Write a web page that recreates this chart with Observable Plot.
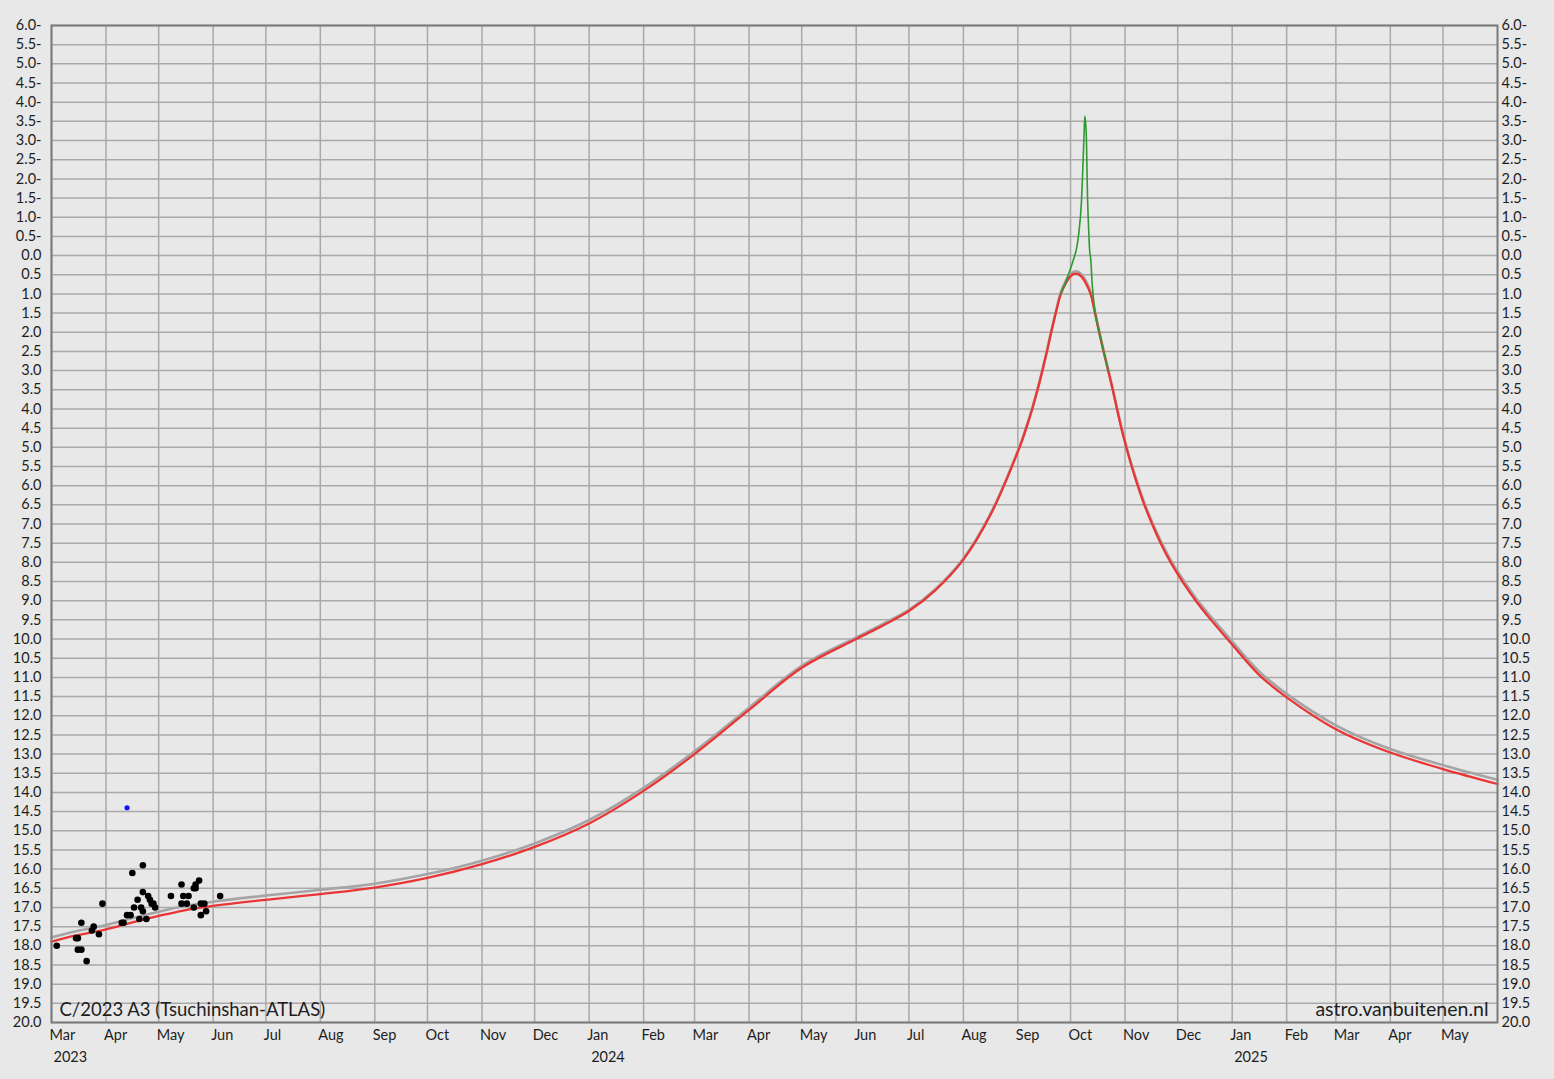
<!DOCTYPE html>
<html>
<head>
<meta charset="utf-8">
<script src="https://cdn.jsdelivr.net/npm/d3@7"></script>
<script src="https://cdn.jsdelivr.net/npm/@observablehq/plot@0.6"></script>
<style>
  html, body { margin: 0; padding: 0; background: #e8e8e8; }
  #chart { width: 1554px; height: 1079px; }
</style>
</head>
<body>
<div id="chart"></div>
<script>
// ---- data ----
const titleText = "C/2023 A3 (Tsuchinshan-ATLAS)";
const creditText = "astro.vanbuitenen.nl";

const xDomain = ["2023-03-01", "2025-06-01"];
const yearLabels = [["2023-03-01", "2023"], ["2024-01-01", "2024"], ["2025-01-01", "2025"]];

// red: predicted magnitude
const redCurve = [
  ["2023-03-01", 17.89], ["2023-03-15", 17.73], ["2023-04-01", 17.57], ["2023-04-15", 17.40],
  ["2023-05-01", 17.22], ["2023-05-15", 17.08], ["2023-06-01", 16.96], ["2023-07-01", 16.80],
  ["2023-08-01", 16.65], ["2023-09-01", 16.48], ["2023-10-01", 16.23], ["2023-11-01", 15.87],
  ["2023-12-01", 15.42], ["2024-01-01", 14.81], ["2024-02-01", 13.96], ["2024-03-01", 13.00],
  ["2024-04-01", 11.85], ["2024-05-01", 10.75], ["2024-06-01", 10.00], ["2024-06-16", 9.65],
  ["2024-07-01", 9.27], ["2024-07-16", 8.73], ["2024-08-01", 7.93], ["2024-08-16", 6.80],
  ["2024-09-02", 5.00], ["2024-09-05T19:00Z", 4.50], ["2024-09-09T05:00Z", 4.00], ["2024-09-12T06:00Z", 3.50],
  ["2024-09-15", 3.00], ["2024-09-17T14:00Z", 2.50], ["2024-09-20", 2.00], ["2024-09-22T14:00Z", 1.50],
  ["2024-09-25T12:00Z", 1.00], ["2024-09-28T07:00Z", 0.72], ["2024-09-30T14:00Z", 0.56], ["2024-10-02T07:00Z", 0.49],
  ["2024-10-04", 0.47], ["2024-10-05T17:00Z", 0.49], ["2024-10-07T10:00Z", 0.56], ["2024-10-09T17:00Z", 0.72],
  ["2024-10-12T10:00Z", 1.00], ["2024-10-14T22:00Z", 1.50], ["2024-10-17T07:00Z", 2.00], ["2024-10-19T19:00Z", 2.50],
  ["2024-10-22T10:00Z", 3.00], ["2024-10-25", 3.50], ["2024-10-27T10:00Z", 4.00], ["2024-10-29T22:00Z", 4.50],
  ["2024-11-01T17:00Z", 5.00], ["2024-11-04T19:00Z", 5.50], ["2024-11-08T05:00Z", 6.00], ["2024-11-12", 6.50],
  ["2024-11-16T10:00Z", 7.00], ["2024-11-21T07:00Z", 7.50], ["2024-11-27", 8.00], ["2024-12-03T17:00Z", 8.50],
  ["2024-12-11T07:00Z", 9.00], ["2024-12-19T22:00Z", 9.50], ["2024-12-29T07:00Z", 10.00], ["2025-01-16", 10.92],
  ["2025-02-01", 11.52], ["2025-03-01", 12.35], ["2025-04-01", 12.96], ["2025-05-01", 13.39],
  ["2025-06-01", 13.78]
];

// grey: alternative prediction
const greyCurve = [
  ["2023-03-01", 17.78], ["2023-03-15", 17.62], ["2023-04-01", 17.46], ["2023-04-15", 17.29],
  ["2023-05-01", 17.11], ["2023-05-15", 16.97], ["2023-06-01", 16.85], ["2023-07-01", 16.69],
  ["2023-08-01", 16.54], ["2023-09-01", 16.38], ["2023-10-01", 16.13], ["2023-11-01", 15.78],
  ["2023-12-01", 15.33], ["2024-01-01", 14.72], ["2024-02-01", 13.88], ["2024-03-01", 12.93],
  ["2024-04-01", 11.79], ["2024-05-01", 10.70], ["2024-06-01", 9.96], ["2024-06-16", 9.61],
  ["2024-07-01", 9.24], ["2024-07-16", 8.70], ["2024-08-01", 7.90], ["2024-08-16", 6.77],
  ["2024-09-02", 4.97], ["2024-09-05T19:00Z", 4.47], ["2024-09-09T05:00Z", 3.97], ["2024-09-12T06:00Z", 3.47],
  ["2024-09-15", 2.97], ["2024-09-17T14:00Z", 2.47], ["2024-09-20", 1.97], ["2024-09-22T14:00Z", 1.47],
  ["2024-09-25T12:00Z", 0.95], ["2024-09-28T07:00Z", 0.66], ["2024-09-30T14:00Z", 0.50], ["2024-10-02T07:00Z", 0.43],
  ["2024-10-04", 0.41], ["2024-10-05T17:00Z", 0.43], ["2024-10-07T10:00Z", 0.50], ["2024-10-09T17:00Z", 0.66],
  ["2024-10-12T10:00Z", 0.95], ["2024-10-14T22:00Z", 1.46], ["2024-10-17T07:00Z", 1.97], ["2024-10-19T19:00Z", 2.47],
  ["2024-10-22T10:00Z", 2.97], ["2024-10-25", 3.47], ["2024-10-27T10:00Z", 3.97], ["2024-10-29T22:00Z", 4.47],
  ["2024-11-01T17:00Z", 4.96], ["2024-11-04T19:00Z", 5.46], ["2024-11-08T05:00Z", 5.95], ["2024-11-12", 6.45],
  ["2024-11-16T10:00Z", 6.95], ["2024-11-21T07:00Z", 7.44], ["2024-11-27", 7.94], ["2024-12-03T17:00Z", 8.43],
  ["2024-12-11T07:00Z", 8.93], ["2024-12-19T22:00Z", 9.42], ["2024-12-29T07:00Z", 9.92], ["2025-01-16", 10.83],
  ["2025-02-01", 11.43], ["2025-03-01", 12.25], ["2025-04-01", 12.87], ["2025-05-01", 13.29],
  ["2025-06-01", 13.67]
];

// green: forward-scattering spike
const greenCurve = [
  ["2024-09-25T12:00Z", 1.00], ["2024-09-28T07:00Z", 0.68], ["2024-10-01", 0.34], ["2024-10-03", 0.05],
  ["2024-10-04T06:00Z", -0.15], ["2024-10-05T16:00Z", -0.57], ["2024-10-07T06:00Z", -1.45], ["2024-10-08", -2.30],
  ["2024-10-08T17:00Z", -3.19], ["2024-10-09T03:00Z", -3.64], ["2024-10-09T22:00Z", -3.19], ["2024-10-10T17:00Z", -1.45],
  ["2024-10-11T10:00Z", -0.57], ["2024-10-11T20:00Z", -0.15], ["2024-10-12T12:00Z", 0.10], ["2024-10-13T07:00Z", 0.73],
  ["2024-10-15T05:00Z", 1.55], ["2024-10-17T07:00Z", 2.00], ["2024-10-19T19:00Z", 2.50], ["2024-10-22T10:00Z", 3.00]
];

// black: observations
const observations = [
  ["2023-03-04", 18.0], ["2023-03-15", 17.8], ["2023-03-16", 17.8], ["2023-03-16", 18.1],
  ["2023-03-18", 18.1], ["2023-03-18", 17.4], ["2023-03-21", 18.4], ["2023-03-24", 17.6],
  ["2023-03-25", 17.5], ["2023-03-28", 17.7], ["2023-03-30", 16.9], ["2023-04-10", 17.4],
  ["2023-04-11", 17.4], ["2023-04-13", 17.2], ["2023-04-15", 17.2], ["2023-04-16", 16.1],
  ["2023-04-17", 17.0], ["2023-04-19", 16.8], ["2023-04-20", 17.3], ["2023-04-21", 17.0],
  ["2023-04-22", 17.1], ["2023-04-22", 15.9], ["2023-04-22", 16.6], ["2023-04-24", 17.3],
  ["2023-04-25", 16.7], ["2023-04-26", 16.8], ["2023-04-27", 16.9], ["2023-04-28", 16.9],
  ["2023-04-29", 17.0], ["2023-05-08", 16.7], ["2023-05-14", 16.4], ["2023-05-15", 16.7],
  ["2023-05-18", 16.7], ["2023-05-14", 16.9], ["2023-05-17", 16.9], ["2023-05-21", 17.0],
  ["2023-05-21", 16.5], ["2023-05-22", 16.4], ["2023-05-22", 16.5], ["2023-05-24", 16.3],
  ["2023-05-25", 16.9], ["2023-05-27", 16.9], ["2023-05-25", 17.2], ["2023-05-28", 17.1],
  ["2023-06-05", 16.7]
];

// blue: single deviating observation
const blueObservations = [["2023-04-13", 14.4]];

// ---- build ----
const toRows = arr => arr.map(([d, m]) => ({date: new Date(d), mag: m}));
const red = toRows(redCurve), grey = toRows(greyCurve), green = toRows(greenCurve);
const obs = toRows(observations), blue = toRows(blueObservations);

const x0 = new Date(xDomain[0]), x1 = new Date(xDomain[1]);
const monthTicks = d3.utcMonth.range(x0, x1);
const yTicks = d3.range(-6, 20.001, 0.5);
const years = yearLabels.map(([d, t]) => ({date: new Date(d), text: t}));
const yFmt = v => v < 0 ? `${(-v).toFixed(1)}-` : v.toFixed(1);

const gridColor = "#a9a9a9";
const textColor = "#1e1e1e";

const chart = Plot.plot({
  width: 1554,
  height: 1079,
  marginLeft: 51,
  marginRight: 57,
  marginTop: 25,
  marginBottom: 57,
  style: {background: "#e8e8e8", fontFamily: "Lato, 'Open Sans', sans-serif", fontSize: "14.5px", color: textColor},
  x: {type: "utc", domain: [x0, x1]},
  y: {domain: [-6, 20], reverse: true},
  marks: [
    Plot.gridX(monthTicks, {stroke: gridColor, strokeOpacity: 1, strokeWidth: 1.5}),
    Plot.gridY(yTicks, {stroke: gridColor, strokeOpacity: 1, strokeWidth: 1.5}),
    Plot.axisY(yTicks, {anchor: "left", tickSize: 0, tickPadding: 10, tickFormat: yFmt, fill: textColor, label: null, fontSize: 14.5}),
    Plot.axisY(yTicks, {anchor: "right", tickSize: 0, tickPadding: 4, tickFormat: yFmt, fill: textColor, label: null, fontSize: 14.5}),
    Plot.axisX(monthTicks, {anchor: "bottom", tickSize: 0, tickPadding: 7, tickFormat: d3.utcFormat("%b"), textAnchor: "start", dx: -2, fill: textColor, label: null, fontSize: 14.5}),
    Plot.text(years, {x: "date", text: "text", frameAnchor: "bottom", dy: 39, dx: 2, textAnchor: "start", fill: textColor, fontSize: 14.5}),
    Plot.line(grey, {x: "date", y: "mag", stroke: "#a5a5a5", strokeWidth: 2.6, curve: "catmull-rom"}),
    Plot.line(red, {x: "date", y: "mag", stroke: "#ea3535", strokeWidth: 2.3, curve: "catmull-rom"}),
    Plot.line(green, {x: "date", y: "mag", stroke: "#2f9a2f", strokeWidth: 1.6, curve: "monotone-x"}),
    Plot.dot(obs, {x: "date", y: "mag", r: 3.3, fill: "#000000", stroke: null}),
    Plot.dot(blue, {x: "date", y: "mag", r: 2.6, fill: "#1010ff", stroke: null}),
    Plot.frame({stroke: "#7a7a7a", strokeWidth: 2}),
    Plot.text([titleText], {frameAnchor: "bottom-left", dx: 8, dy: -7, textAnchor: "start", lineAnchor: "bottom", fontSize: 18.5, fill: textColor}),
    Plot.text([creditText], {frameAnchor: "bottom-right", dx: -9, dy: -7, textAnchor: "end", lineAnchor: "bottom", fontSize: 19.5, fill: textColor})
  ]
});
document.getElementById("chart").append(chart);
</script>
</body>
</html>
